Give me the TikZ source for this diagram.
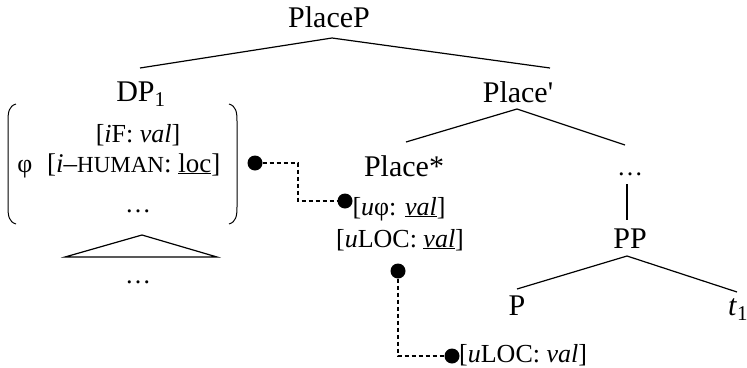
\documentclass[tikz,border=0pt]{standalone}
\usepackage{fontspec}
\setmainfont{Liberation Serif}
\begin{document}
\begin{tikzpicture}[x=1pt,y=-1pt,
  cat/.style={anchor=base,inner sep=0pt,font=\fontsize{30}{30}\selectfont},
  feat/.style={anchor=base,inner sep=0pt,font=\fontsize{26}{26}\selectfont},
  branch/.style={line width=1.2pt},
  link/.style={line width=1.2pt,dash pattern=on 4pt off 3pt},
  dot/.style={circle,fill=black,inner sep=0pt,minimum size=15pt}]
\useasboundingbox (0,0) rectangle (747,367);
% category labels
\node[cat] (placeP) at (329,27) {PlaceP};
\node[cat] (dp) at (141,101) {DP\textsubscript{1}};
\node[cat] (placebar) at (518,102) {Place\textquotesingle};
\node[cat] (placestar) at (404,176) {Place*};
\node[feat] (dotsR) at (630,175) {\dots};
\node[cat] (pp) at (630,248) {PP};
\node[cat] (p) at (517,315) {P};
\node[cat,anchor=base west] (t) at (728,315) {\textit{t}\textsubscript{1}};
% features of DP
\node[feat] (f1) at (138,142) {[\textit{i}F: \textit{val}]};
\node[feat] (phi) at (25,172) {φ};
\node[feat,anchor=base west,font=\fontsize{27}{27}\selectfont] (f2) at (47,172) {[\textit{i}--{\fontsize{23}{23}\selectfont HUMAN}: \underline{loc}]};
\node[feat] (dotsL) at (138,212) {\dots};
\node[feat] (dotsB) at (138,283) {\dots};
% features of Place*
\node[feat] (f3) at (399,215) {[\textit{u}φ: \underline{\textit{val}}]};
\node[feat] (f4) at (400,247) {[\textit{u}LOC: \underline{\textit{val}}]};
\node[feat,anchor=base west] (f5) at (459,362) {[\textit{u}LOC: \textit{val}]};
% brackets
\draw[line width=1pt] (16,104) .. controls (9,106) and (8,112) .. (8,121) -- (8,207) .. controls (8,216) and (9,222) .. (16,224);
\draw[line width=1pt] (229,104) .. controls (236,106) and (237,112) .. (237,121) -- (237,207) .. controls (237,216) and (236,222) .. (229,224);
% tree coordinates
\coordinate (a0) at (332,38);
\coordinate (a0l) at (140,68);
\coordinate (a0r) at (550,68);
\coordinate (a1) at (517,109);
\coordinate (a1l) at (406,142);
\coordinate (a1r) at (625,145);
\coordinate (v1) at (627,184);
\coordinate (v2) at (627,220);
\coordinate (a2) at (627,256);
\coordinate (a2l) at (517,289);
\coordinate (a2r) at (737,292);
\coordinate (tA) at (142,235);
\coordinate (tL) at (65,257);
\coordinate (tR) at (217,257);
\draw[branch] (a0l) -- (a0) -- (a0r);
\draw[branch] (a1l) -- (a1) -- (a1r);
\draw[branch] (v1) -- (v2);
\draw[branch] (a2l) -- (a2) -- (a2r);
\draw[branch] (tA) -- (tL) -- (tR) -- cycle;
% agreement links
\node[dot] (d1) at (255,163) {};
\node[dot] (d2) at (345,201) {};
\node[dot] (d3) at (398,271) {};
\node[dot] (d4) at (452,356) {};
\coordinate (m1) at (298,163);
\draw[link] (d1) -- (m1) |- (d2);
\draw[link] (d3) |- (d4);
\end{tikzpicture}
\end{document}
